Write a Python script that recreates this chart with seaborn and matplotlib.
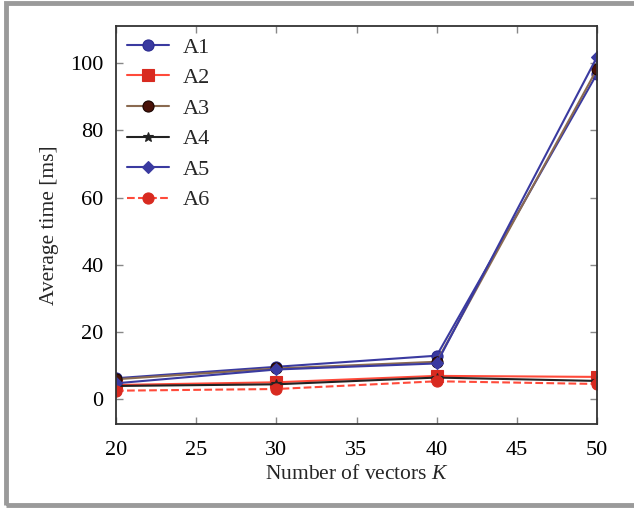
import matplotlib
matplotlib.use('Agg')
from matplotlib import pyplot as plt
import matplotlib.patches as mpatches
import seaborn as sns
import pandas as pd

K = [20, 30, 40, 50]
A1 = [6.3, 9.7, 13.0, 96.8]
A2 = [4.3, 5.1, 7.0, 6.7]
A3 = [6.0, 9.2, 11.2, 98.2]
A4 = [4.0, 4.5, 6.5, 5.5]
A5 = [4.8, 8.9, 10.7, 101.8]
A6 = [2.6, 3.1, 5.4, 4.6]

series = {'A1': A1, 'A2': A2, 'A3': A3, 'A4': A4, 'A5': A5, 'A6': A6}
styles = {
    'A1': dict(color='#3a3aa0', marker='o', mfc='#3a3aa0', mec='#2a2a90', ls='-', ms=8),
    'A2': dict(color='#ff4a3a', marker='s', mfc='#d82a20', mec='#d82a20', ls='-', ms=8),
    'A3': dict(color='#8a6a50', marker='o', mfc='#4a1208', mec='#1a0500', ls='-', ms=8),
    'A4': dict(color='#222222', marker='*', mfc='#222222', mec='#222222', ls='-', ms=7),
    'A5': dict(color='#3a3aa0', marker='D', mfc='#3a3aa0', mec='#3a3aa0', ls='-', ms=6),
    'A6': dict(color='#ff4a3a', marker='o', mfc='#d82a20', mec='#d82a20', ls='--', ms=8),
}

df = pd.DataFrame([(k, name, v) for name, vals in series.items() for k, v in zip(K, vals)],
                  columns=['K', 'method', 'time'])

sns.set_style('white')
plt.rcParams['font.family'] = ['Liberation Serif', 'DejaVu Serif']
plt.rcParams['mathtext.fontset'] = 'custom'
plt.rcParams['mathtext.it'] = 'Liberation Serif:italic'
plt.rcParams['mathtext.rm'] = 'Liberation Serif'

fig = plt.figure(figsize=(6.34, 5.08), dpi=100)
ax = fig.add_axes([116 / 634, 1 - 424 / 508, (597 - 116) / 634, (424 - 26) / 508])

for name in series:
    st = styles[name]
    sns.lineplot(data=df[df['method'] == name], x='K', y='time', ax=ax,
                 color=st['color'], linestyle=st['ls'], linewidth=1.5,
                 marker=st['marker'], markersize=st['ms'],
                 markerfacecolor=st['mfc'], markeredgecolor=st['mec'],
                 markeredgewidth=0.8, label=name)

ax.set_xlim(20, 50)
ax.set_ylim(-7.3, 111)
ax.set_xticks([20, 25, 30, 35, 40, 45, 50])
ax.set_yticks([0, 20, 40, 60, 80, 100])
ax.tick_params(direction='in', length=5, width=1, color='#888888',
               labelsize=16, labelcolor='black', top=True, right=True,
               bottom=True, left=True)
ax.tick_params(axis='x', pad=12)
ax.tick_params(axis='y', pad=9)
for s in ax.spines.values():
    s.set_color('#333333')
    s.set_linewidth(1.3)

ax.set_xlabel('Number of vectors $K$', fontsize=15.5, labelpad=4)
ax.set_ylabel('Average time [ms]', fontsize=15.5, labelpad=8)

leg = ax.legend(loc='upper left', frameon=False, fontsize=16, handlelength=1.9,
                labelspacing=0.45, handletextpad=0.6, borderaxespad=0.1)

# grey page border
fig.patches.append(mpatches.Rectangle((6 / 634, 3 / 508), 1, 1 - 6 / 508,
                                      transform=fig.transFigure, fill=False,
                                      edgecolor='#9a9a9a', linewidth=3.5))

fig.savefig('out.png', dpi=100)
